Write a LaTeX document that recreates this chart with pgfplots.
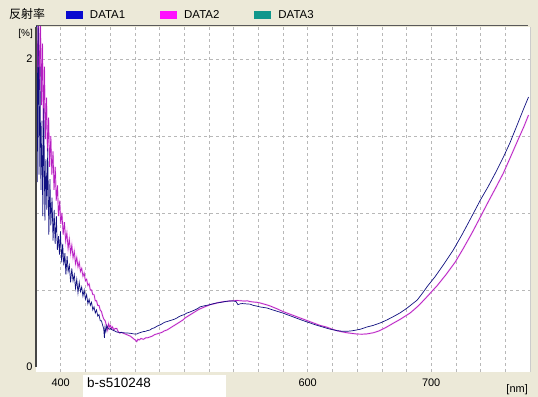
\documentclass[border=0pt]{standalone}
\usepackage{fontspec}
\setmainfont{Liberation Sans}
\newfontfamily\cjk{Noto Sans CJK JP}
\usepackage{pgfplots}
\pgfplotsset{compat=1.18}
\usepackage{pgfplotstable}
\definecolor{bgc}{HTML}{ECE9D8}
\definecolor{dataone}{HTML}{101080}
\definecolor{datatwo}{HTML}{B41EC0}
\definecolor{datatwohalo}{HTML}{F2A6F2}
\definecolor{legone}{HTML}{0A0ACF}
\definecolor{legtwo}{HTML}{FF10FF}
\definecolor{legthree}{HTML}{10978C}
\definecolor{gridc}{HTML}{B8B8B8}

\pgfplotstableread{
nm r
380.0 0.66
380.3 2.25
381.0 1.20
381.7 2.25
382.5 1.25
383.2 1.95
384.0 1.15
384.8 1.60
385.5 0.98
386.3 1.68
387.2 0.95
388.0 1.35
388.8 1.02
389.5 1.42
390.4 0.86
391.3 1.22
392.0 0.92
393.0 1.10
393.8 0.82
394.7 1.02
395.5 0.80
396.5 0.98
397.3 0.76
398.2 0.85
399.0 0.73
399.8 0.88
400.8 0.68
401.6 0.80
402.5 0.66
403.4 0.74
404.2 0.60
405.2 0.72
406.0 0.62
407.0 0.66
408.0 0.55
409.0 0.64
410.0 0.56
411.0 0.60
412.0 0.51
413.0 0.57
414.0 0.48
415.0 0.55
416.0 0.49
417.0 0.52
418.0 0.46
419.0 0.50
420.0 0.44
421.0 0.47
422.0 0.41
423.0 0.44
424.0 0.40
425.0 0.42
426.0 0.37
427.0 0.39
428.0 0.35
429.0 0.37
430.0 0.33
431.0 0.34
432.0 0.30
433.0 0.30
434.0 0.27
434.8 0.25
435.4 0.19
435.9 0.26
436.6 0.23
437.4 0.27
438.4 0.25
439.4 0.245
440.2 0.25
441 0.245
442 0.24
443.5 0.235
445.4 0.227
447 0.225
449 0.224
451 0.222
453.5 0.221
455 0.22
457 0.218
459 0.215
461.6 0.214
463 0.22
465 0.225
467 0.23
469 0.232
470 0.236
472.2 0.24
474 0.25
476 0.255
478 0.265
480.3 0.273
482 0.28
484 0.29
486 0.295
488 0.30
490 0.305
492 0.31
494.1 0.318
496 0.328
498 0.335
500 0.34
502 0.35
504.6 0.357
507 0.365
509 0.372
511 0.38
512.7 0.39
515 0.395
518 0.40
521 0.405
524 0.412
526.5 0.416
530 0.42
533 0.425
536 0.428
539.5 0.429
542 0.425
543.5 0.405
545.2 0.41
547 0.412
550 0.41
553.3 0.408
556 0.40
559 0.395
561.4 0.39
564 0.387
567.1 0.383
570 0.375
574 0.365
580 0.35
585 0.335
590 0.32
595 0.305
601.9 0.286
607 0.272
612 0.26
617 0.248
623.8 0.236
628 0.232
632 0.232
636 0.235
642.5 0.245
648 0.26
653 0.27
658.7 0.286
664 0.305
670 0.33
674.9 0.352
680 0.38
684 0.405
688.7 0.435
693 0.48
697 0.525
703 0.585
710 0.665
717.9 0.76
725 0.86
732 0.965
739.8 1.084
746 1.17
752 1.26
758.5 1.364
764 1.46
770 1.58
775 1.68
778.8 1.753
}\tblone

\pgfplotstableread{
nm r
380.0 1.90
380.5 2.25
381.2 1.85
382.0 2.25
382.8 1.80
383.6 2.25
384.4 1.70
385.2 2.10
386.0 1.55
386.8 1.95
387.6 1.48
388.5 1.75
389.3 1.40
390.2 1.62
391.0 1.30
392.0 1.50
392.8 1.25
393.8 1.40
394.6 1.15
395.6 1.30
396.4 1.08
397.4 1.18
398.2 0.98
399.2 1.08
400.0 0.93
401.0 1.00
402.0 0.86
403.0 0.94
404.0 0.82
405.0 0.87
406.0 0.77
407.0 0.83
408.0 0.74
409.0 0.79
410.0 0.71
411.0 0.75
412.0 0.67
413.0 0.71
414.0 0.65
415.0 0.68
416.0 0.62
417.0 0.64
418.0 0.59
419.0 0.61
420.0 0.56
421.0 0.57
422.0 0.53
423.0 0.54
424.0 0.50
425.0 0.50
426.0 0.47
427.0 0.47
428.0 0.43
429.0 0.43
430.0 0.40
431.0 0.40
432.0 0.37
433.0 0.36
434.0 0.33
435.0 0.31
436.0 0.30
437.0 0.27
438.0 0.24
438.8 0.28
439.6 0.26
440.4 0.27
441.2 0.25
442 0.26
443 0.24
444 0.25
445.4 0.25
446.5 0.23
447.9 0.22
449 0.225
450.5 0.22
452 0.215
453.5 0.21
455 0.205
456.5 0.20
458 0.19
459.5 0.18
460.5 0.175
461.6 0.165
462.5 0.18
463.5 0.175
465 0.185
467 0.18
469 0.19
470.5 0.19
472.2 0.195
474 0.20
476 0.21
478 0.215
480 0.22
482 0.225
484 0.235
486 0.24
488 0.25
490 0.26
492 0.27
494 0.28
496 0.29
498.9 0.305
501 0.32
503 0.33
505 0.34
507 0.35
509 0.36
511 0.37
512.7 0.377
515 0.385
518 0.395
521 0.405
524 0.41
526.5 0.416
530 0.422
533 0.425
536 0.428
539 0.43
542.7 0.432
546 0.43
549 0.428
551 0.43
553.3 0.425
556 0.422
559 0.42
561.4 0.416
564 0.41
567.1 0.403
570 0.395
573 0.385
576 0.375
580 0.36
585 0.345
590 0.33
595 0.315
600 0.30
605 0.285
610 0.27
615 0.26
620 0.245
624 0.235
628 0.228
632 0.222
636 0.218
640 0.214
644 0.213
648 0.215
653 0.222
658 0.235
663 0.255
669 0.283
675 0.31
683 0.351
690 0.40
697.6 0.465
705 0.53
712 0.60
719.5 0.682
726 0.77
733 0.87
739.8 0.974
746 1.07
752 1.16
758.5 1.26
764 1.36
770 1.47
775 1.56
778.8 1.636
}\tbltwo

\begin{document}
\begin{tikzpicture}
\fill[bgc] (0,0) rectangle (538bp,397bp);
\begin{axis}[
  at={(36bp,25bp)}, anchor=south west,
  scale only axis, width=494bp, height=345bp,
  xmin=380, xmax=780, ymin=-0.0325, ymax=2.208,
  axis line style={draw=none},
  axis background/.style={fill=white},
  clip mode=individual,
  xtick={400,420,...,760},
  xticklabels={400,,,,,,,,,,600,,,,,700,,,},
  ytick={0.5,1,1.5,2}, yticklabels={,,,2},
  extra y ticks={0}, extra y tick labels={0},
  extra y tick style={grid=none},
  major tick length=0pt,
  grid=major,
  major grid style={gridc, dash pattern=on 3bp off 3bp, line width=0.6bp},
  /pgf/number format/assume math mode=true,
  tick label style={font=\fontsize{11}{12}\selectfont},
  xticklabel style={anchor=center, yshift=-10.5bp},
  legend columns=3,
  legend image code/.code={\fill[#1] (0bp,-4bp) rectangle (17bp,4bp);},
  legend style={draw=none, fill=none, at={(0.0607,1.0348)}, anchor=west,
    inner sep=0pt, outer sep=0pt, font=\fontsize{11.5}{12}\selectfont,
    nodes={inner sep=0pt},
    /tikz/every odd column/.append style={column sep=7bp},
    /tikz/every even column/.append style={column sep=35bp}},
]
\addlegendimage{fill=legone, draw=none}
\addlegendentry{DATA1}
\addlegendimage{fill=legtwo, draw=none}
\addlegendentry{DATA2}
\addlegendimage{fill=legthree, draw=none}
\addlegendentry{DATA3}
\addplot[forget plot, datatwohalo, line width=1.6bp, opacity=0.6] table[x=nm, y=r] {\tbltwo};
\addplot[forget plot, datatwo, line width=0.7bp] table[x=nm, y=r] {\tbltwo};
\addplot[forget plot, dataone, line width=0.7bp] table[x=nm, y=r] {\tblone};
\draw[gray!55!black, line width=1.2bp] (axis cs:380,2.208) -- (axis cs:380,0);
\draw[gray!70!black, line width=1bp] (rel axis cs:0,1.003) -- (rel axis cs:0.996,1.003);
\draw[gray!40, line width=0.6bp] (rel axis cs:1,0) -- (rel axis cs:1,1);
\end{axis}
\node[anchor=west, inner sep=0pt, font=\cjk\fontsize{12}{12}\selectfont] at (9bp,383bp) {反射率};
\node[anchor=east, inner sep=0pt, font=\fontsize{10}{11}\selectfont] at (33bp,363bp) {[\%]};
\node[anchor=east, inner sep=0pt, font=\fontsize{11}{12}\selectfont] at (528bp,7bp) {[nm]};
\fill[white] (83bp,0bp) rectangle (226bp,22bp);
\node[anchor=west, inner sep=0pt, font=\fontsize{13.5}{14}\selectfont] at (87bp,14bp) {b-s510248};
\pgfresetboundingbox
\useasboundingbox (0,0) rectangle (538bp,397bp);
\end{tikzpicture}
\end{document}
